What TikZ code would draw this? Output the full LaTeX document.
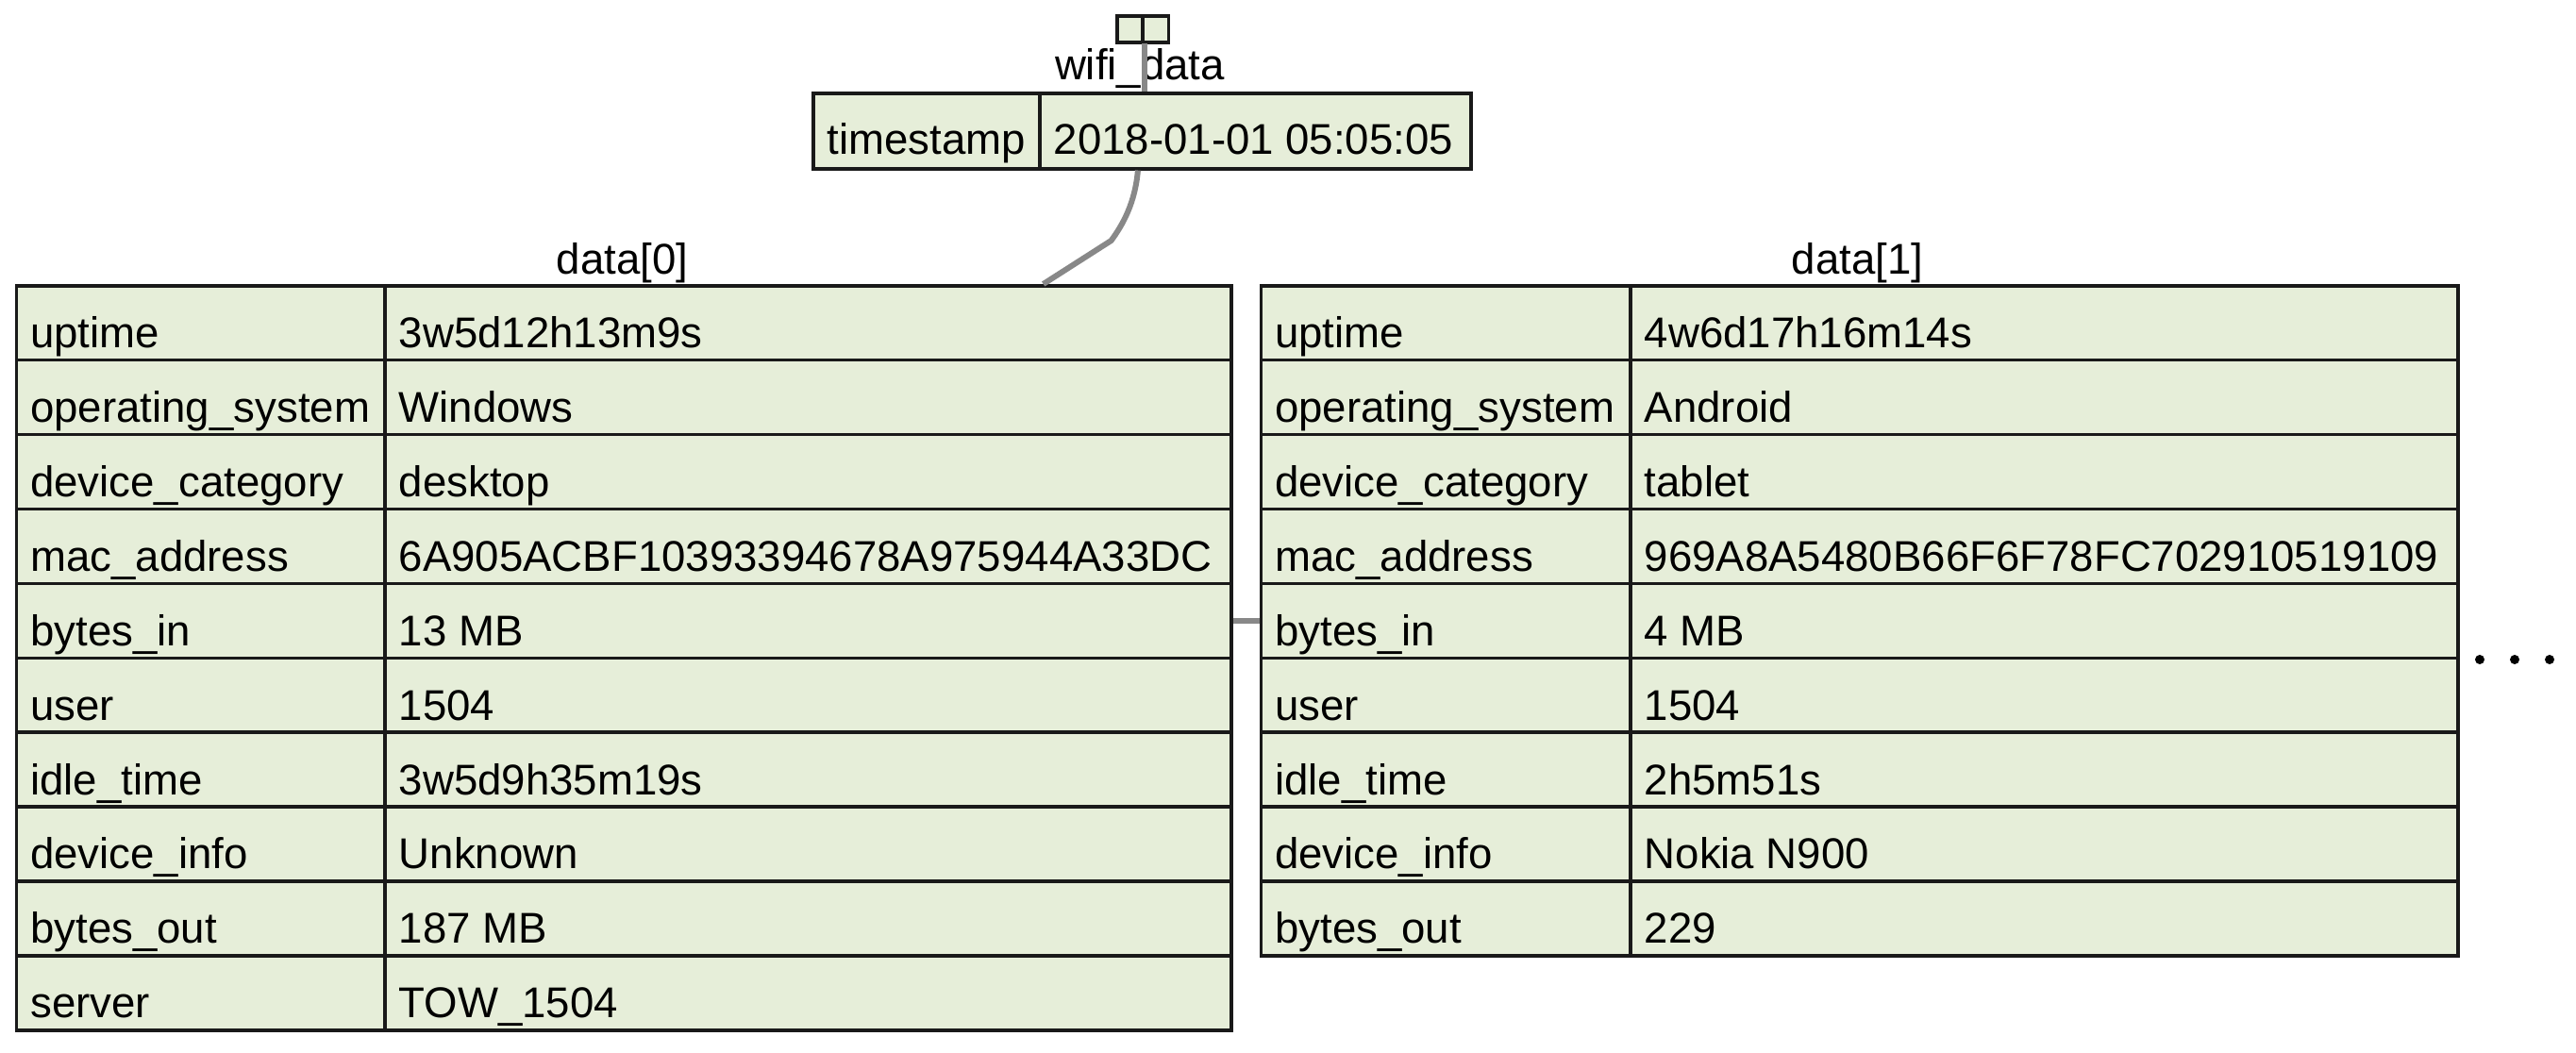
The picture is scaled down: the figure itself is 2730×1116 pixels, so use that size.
\documentclass[tikz,border=0pt]{standalone}
\usepackage{fontspec}
\setmainfont{Liberation Sans}
\usetikzlibrary{calc}
\definecolor{cellgreen}{RGB}{230,238,217}
\definecolor{cellline}{RGB}{25,25,25}
\definecolor{linkgray}{RGB}{136,136,136}
\begin{document}
\begin{tikzpicture}[x=0.1mm,y=-0.1mm,
  txt/.style={font=\fontsize{12.97}{15}\selectfont},
  cellbox/.style={txt,draw=cellline,fill=cellgreen,line width=0.35mm,anchor=north west,
    inner xsep=1.5mm,inner ysep=0pt,text height=6.59mm,text depth=1.3mm},
  tsbox/.style={cellbox,text height=6.5mm,text depth=1.5mm},
  smallbox/.style={draw=cellline,fill=cellgreen,line width=0.35mm,anchor=north west,
    inner sep=0pt,minimum width=2.7mm,minimum height=2.8mm},
  title/.style={txt,anchor=base,inner sep=0pt},
  link/.style={draw=linkgray,line width=0.6mm},
  dotc/.style={circle,fill=black,inner sep=0pt,minimum size=1.0mm}]
\useasboundingbox (0,0) rectangle (2730,1116);

% top small box
\node[smallbox] (sb1) at (1182,15) {};
\node[smallbox,minimum width=2.75mm] (sb2) at (1209,15) {};

% timestamp table
\node[tsbox] (tsk) at (860,97) {\makebox[21mm][l]{timestamp}};
\node[tsbox] (tsv) at (1100,97) {\makebox[42.7mm][l]{2018-01-01 05:05:05}};
\node[title] (wifi) at (1208,84) {wifi\_data};

% data[0]
\node[title] (t0) at (659.5,290) {data[0]};
\foreach \k/\v [count=\i] in {uptime/3w5d12h13m9s,
  operating\_system/Windows,
  device\_category/desktop,
  mac\_address/6A905ACBF10393394678A975944A33DC,
  bytes\_in/13 MB,
  user/1504,
  idle\_time/3w5d9h35m19s,
  device\_info/Unknown,
  bytes\_out/187 MB,
  server/TOW\_1504}{
  \node[cellbox] (d0k\i) at (15.5,{301+(\i-1)*78.9}) {\makebox[36.05mm][l]{\k}};
  \node[cellbox] (d0v\i) at (406,{301+(\i-1)*78.9}) {\makebox[86.7mm][l]{\v}};
}

% data[1]
\node[title] (t1) at (1968.5,290) {data[1]};
\foreach \k/\v [count=\i] in {uptime/4w6d17h16m14s,
  operating\_system/Android,
  device\_category/tablet,
  mac\_address/969A8A5480B66F6F78FC702910519109,
  bytes\_in/4 MB,
  user/1504,
  idle\_time/2h5m51s,
  device\_info/Nokia N900,
  bytes\_out/229}{
  \node[cellbox] (d1k\i) at (1334.5,{301+(\i-1)*78.9}) {\makebox[36.15mm][l]{\k}};
  \node[cellbox] (d1v\i) at (1726,{301+(\i-1)*78.9}) {\makebox[84.7mm][l]{\v}};
}

% connectors
\draw[link] (sb1.south east) -- (sb1.south east |- tsv.north);
\coordinate (bend) at (1177.6,255);
\draw[link] ($(tsv.south west)!0.23!(tsv.south east)$)
  .. controls (1203,215) and (1190,238) .. (bend)
  -- ($(d0v1.north west)!0.777!(d0v1.north east)$);
\draw[link] (d0v5.east) -- (d1k5.west);

% ellipsis
\node[dotc] (dot1) at (2628,699) {};
\node[dotc] (dot2) at (2665,699) {};
\node[dotc] (dot3) at (2702,699) {};
\end{tikzpicture}
\end{document}
